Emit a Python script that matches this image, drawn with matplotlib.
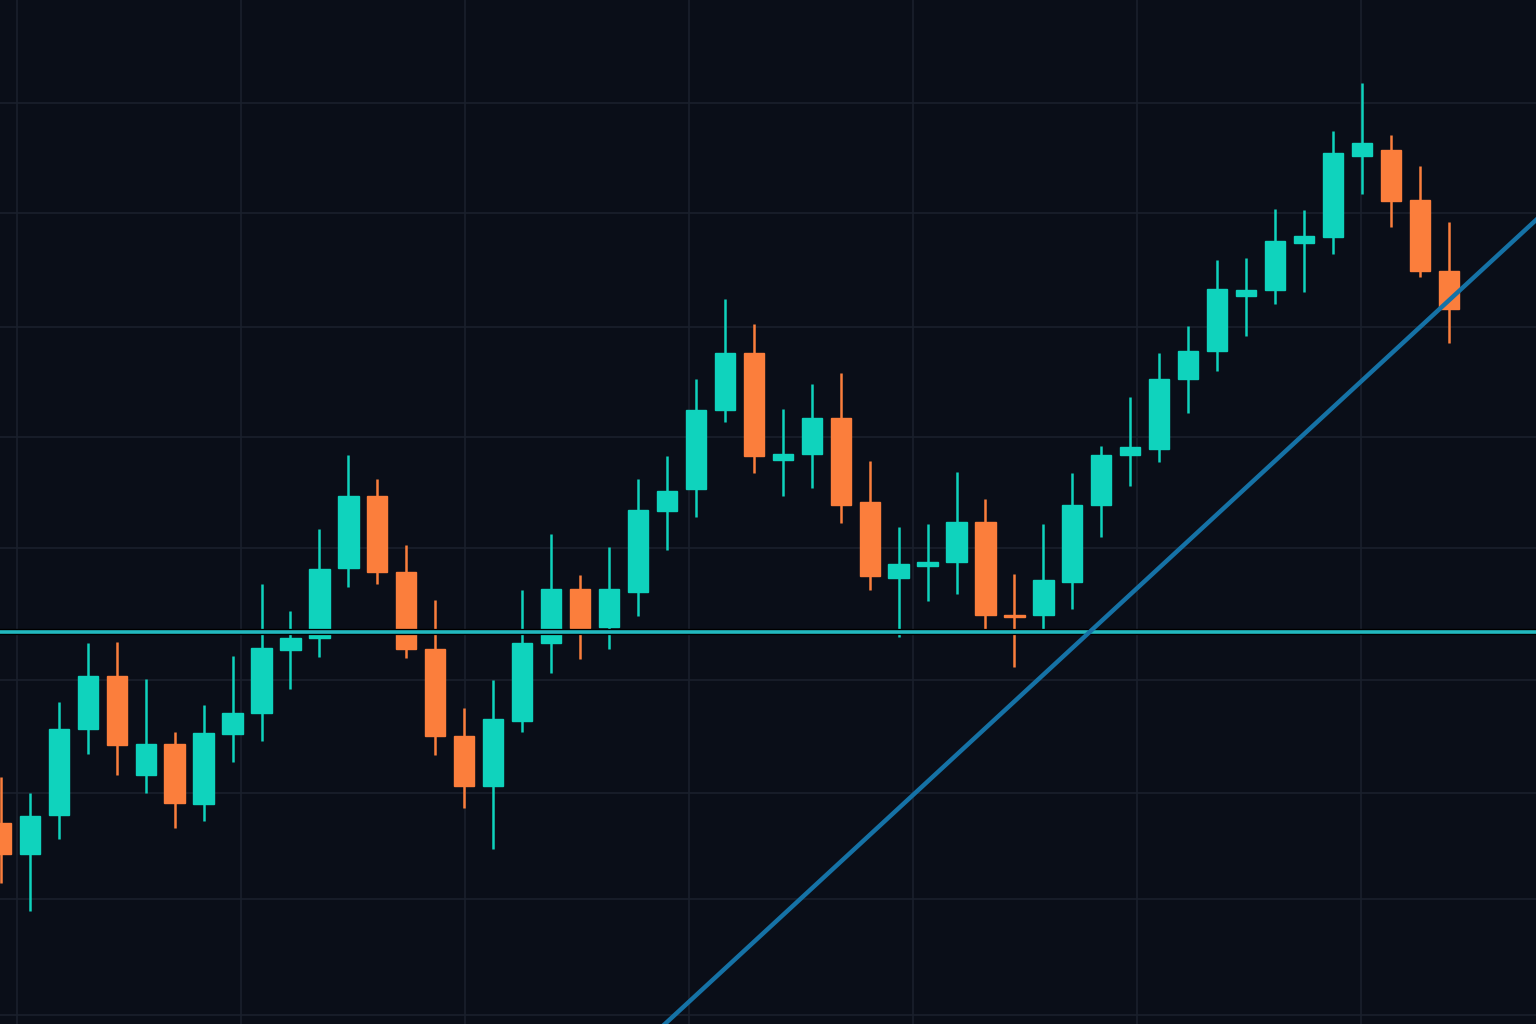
import numpy as np
import matplotlib
matplotlib.use("Agg")
import matplotlib.pyplot as plt
from matplotlib.patches import Rectangle

# -----------------------------
# OHLC data
# -----------------------------
opens = [20.1, 17.0, 20.9, 29.5, 34.8, 24.9, 28.0, 22.0, 29.0, 31.1,
         37.4, 38.6, 45.6, 52.8, 45.2, 37.5, 28.8, 23.8, 30.3, 38.1,
         43.5, 39.7, 43.2, 51.3, 53.5, 61.4, 67.1, 56.4, 57.0, 60.6,
         52.2, 44.6, 45.8, 46.2, 50.2, 40.9, 40.9, 44.2, 51.9, 56.9,
         57.5, 64.5, 67.3, 72.8, 73.4, 78.1, 78.7, 86.8, 87.4, 82.4,
         75.3]
highs = [24.7, 23.1, 32.2, 38.1, 38.2, 34.5, 29.2, 31.9, 36.8, 44.0,
         41.3, 49.5, 56.9, 54.5, 47.9, 42.4, 31.6, 34.4, 43.4, 49.0,
         44.9, 47.7, 54.5, 56.8, 64.5, 72.5, 70.0, 61.5, 64.0, 65.1,
         56.3, 49.7, 50.0, 55.2, 52.5, 45.0, 50.0, 55.1, 57.8, 62.7,
         67.1, 69.8, 76.4, 76.6, 81.5, 81.4, 89.3, 94.1, 88.9, 85.8,
         80.2]
lows = [14.1, 11.3, 18.5, 27.0, 24.9, 23.1, 19.6, 20.3, 26.2, 28.3,
        33.5, 36.7, 43.7, 44.0, 36.6, 26.9, 21.6, 17.5, 29.2, 35.1,
        36.5, 37.5, 40.8, 47.4, 50.7, 60.2, 55.1, 52.8, 53.6, 50.1,
        43.4, 38.7, 42.3, 43.0, 39.1, 35.7, 39.3, 41.5, 48.7, 53.8,
        56.2, 61.1, 65.3, 68.8, 72.0, 73.2, 77.0, 83.0, 79.7, 74.7,
        68.1]
closes = [17.0, 20.8, 29.5, 34.8, 27.9, 28.0, 22.1, 29.1, 31.1, 37.6,
          38.6, 45.5, 52.8, 45.2, 37.5, 28.8, 23.8, 30.5, 38.1, 43.5,
          39.6, 43.5, 51.4, 53.3, 61.4, 67.1, 56.8, 57.0, 60.6, 51.9,
          44.8, 46.0, 46.2, 50.2, 40.9, 40.7, 44.4, 51.9, 56.9, 57.7,
          64.5, 67.3, 73.5, 73.4, 78.3, 78.8, 87.1, 88.1, 82.3, 75.3,
          71.5]

support_level = 39.2
trend_points = [(22.93, 0.0), (53.01, 80.4)]

# -----------------------------
# Styles
# -----------------------------
bg = "#0a0e18"
grid_col = "#1a202c"
up_col = "#0fd3bd"
down_col = "#fb7e3c"

fig = plt.figure(figsize=(15.36, 10.24), dpi=100)
fig.patch.set_facecolor(bg)
ax = fig.add_axes([0, 0, 1, 1])
ax.set_facecolor(bg)

x = np.arange(len(opens))
width = 0.7

for i in x:
    o, h, l, c = opens[i], highs[i], lows[i], closes[i]
    col = up_col if c >= o else down_col
    ax.vlines(i, l, h, color=col, linewidth=1.8, zorder=3)
    bottom = min(o, c)
    height = max(abs(c - o), 0.25)
    ax.add_patch(Rectangle((i - width / 2, bottom), width, height,
                           facecolor=col, edgecolor=col, linewidth=1.0, zorder=4))

# support line and trend line
ax.axhline(support_level, color="#000000", linewidth=4.5, zorder=5)
ax.axhline(support_level, color="#22b9bf", linewidth=2.6, zorder=6)
ax.axline(trend_points[0], trend_points[1], color="#1572a6", linewidth=3.2, zorder=7)

ax.set_xlim(-0.03, 53.01)
ax.set_ylim(0, 102.4)

# faint grid
ax.set_xticks(np.arange(0.557, 53, 7.735))
ax.set_yticks([92.1, 81.1, 69.7, 58.7, 47.6, 34.4, 23.1, 12.5, 0.9])
ax.grid(True, color=grid_col, linewidth=1.2, zorder=0)
ax.tick_params(length=0, labelbottom=False, labelleft=False)
for s in ax.spines.values():
    s.set_visible(False)

fig.savefig("out.png", dpi=100, facecolor=bg)
